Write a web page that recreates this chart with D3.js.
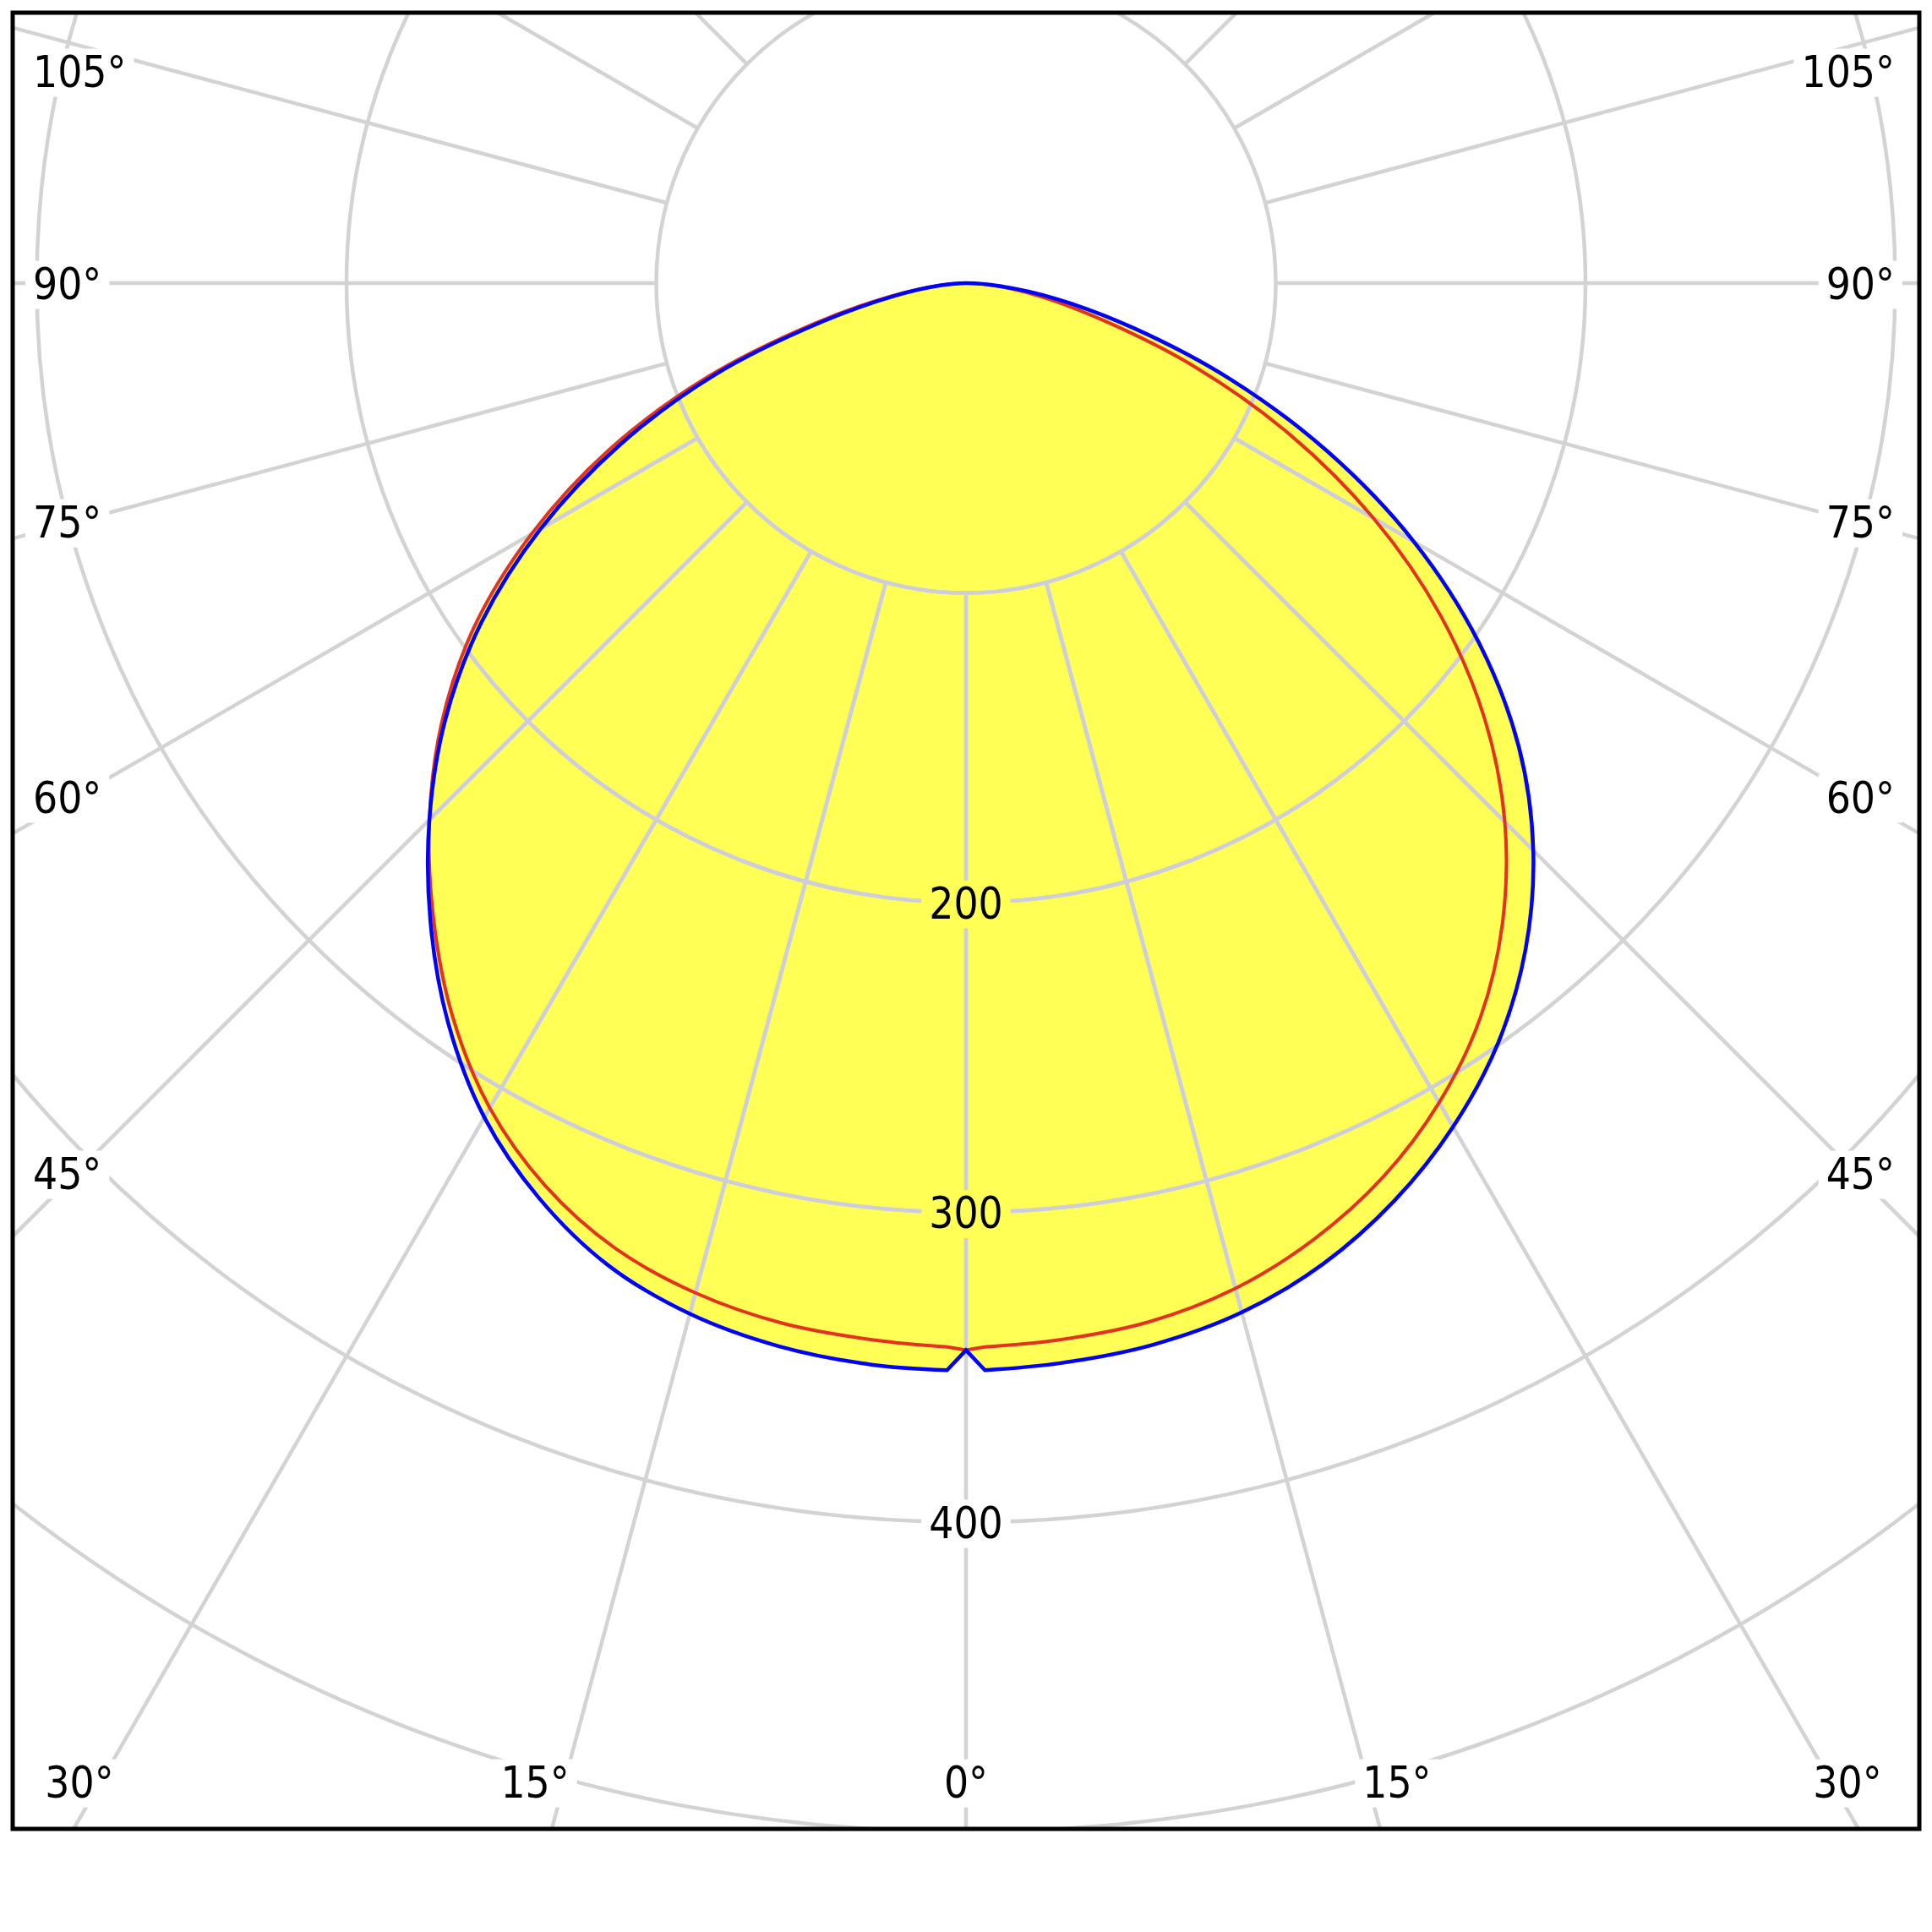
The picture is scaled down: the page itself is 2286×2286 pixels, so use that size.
<!DOCTYPE html>
<html>
<head>
<meta charset="utf-8">
<script src="https://cdn.jsdelivr.net/npm/d3@7"></script>
<style>
  html, body { margin: 0; padding: 0; background: #ffffff; }
  svg { display: block; }
</style>
</head>
<body>
<script>
// ---------------- DATA (luminous intensity, cd/klm) ----------------
const curveAngles = [0, 1, 5, 10, 15, 20, 25, 30, 35, 40, 45, 50, 55, 60, 65, 70, 75, 80, 85, 90];
// red curve (C0 / C180 plane)
const redLeft  = [344.5, 343.5, 342.5, 341, 337.5, 331.5, 321.5, 307.5, 289, 267.5, 245, 221, 194, 162, 127, 89, 51, 25, 9, 0];
const redRight = [344.5, 343.5, 342.5, 340.5, 336, 328.5, 318.5, 305.5, 289.5, 269.5, 246, 218.5, 187, 152, 115, 78, 45, 24, 9, 0];
// blue curve (C90 / C270 plane)
const blueLeft  = [344.5, 351, 350.5, 348.5, 344.5, 337.5, 326, 311, 291.5, 269, 245, 219.5, 191, 158.5, 123, 86, 48, 23, 8, 0];
const blueRight = [344.5, 351, 350, 348, 344, 337, 327, 314.5, 299.5, 281, 259, 233, 202, 167, 129, 91, 56, 30, 11, 0];

const gridAngles  = [0, 15, 30, 45, 60, 75, 90, 105, 120, 135, 150, 165, 180];
const ringValues  = [100, 200, 300, 400, 500, 600, 700];
const ringLabels  = ["200", "300", "400"];
const angleLabels = ["0°", "15°", "30°", "45°", "60°", "75°", "90°", "105°"];

// ---------------- LAYOUT ----------------
const W = 2286, H = 2286;
const frame = { x: 15, y: 15, w: 2256, h: 2149 };
const cx = 1143, cy = 335;
const fs = 51;
const gridColor = "#d3d3d3", gridColorInside = "#cdcddc";
const fillColor = "#ffff55", redColor = "#e5321f", blueColor = "#0000ff";

const r = d3.scaleLinear().domain([0, 100]).range([0, 366.5]);
const rad = d => d * Math.PI / 180;

const svg = d3.select("body").append("svg")
  .attr("width", W).attr("height", H)
  .attr("viewBox", `0 0 ${W} ${H}`);

const defs = svg.append("defs");
defs.append("clipPath").attr("id", "frameClip")
  .append("rect").attr("x", frame.x).attr("y", frame.y)
  .attr("width", frame.w).attr("height", frame.h);

// radial line generator: angle measured from nadir (0 = down)
const radialOpen = d3.lineRadial()
  .angle(d => d.a)
  .radius(d => r(d.v))
  .curve(d3.curveCatmullRom.alpha(0.5));

function curvePath(left, right) {
  const n = curveAngles.length;
  const pts = [];
  for (let i = 1; i < n; i++) pts.push({ a: Math.PI + rad(curveAngles[i]), v: left[i] });
  for (let i = n - 2; i >= 1; i--) pts.push({ a: Math.PI - rad(curveAngles[i]), v: right[i] });
  const p0 = d3.pointRadial(Math.PI, r(left[0]));
  return radialOpen(pts) + `L${p0[0]},${p0[1]}Z`;
}
const redPath = curvePath(redLeft, redRight);
const bluePath = curvePath(blueLeft, blueRight);

const root = svg.append("g").attr("clip-path", "url(#frameClip)");
const plot = root.append("g").attr("transform", `translate(${cx},${cy})`);

// clip of yellow area (union of both curves) for inside grid tint
const fillClip = defs.append("clipPath").attr("id", "fillClip");
fillClip.append("path").attr("transform", `translate(${cx},${cy})`).attr("d", redPath);
fillClip.append("path").attr("transform", `translate(${cx},${cy})`).attr("d", bluePath);

// yellow fill
plot.append("path").attr("d", redPath).attr("fill", fillColor);
plot.append("path").attr("d", bluePath).attr("fill", fillColor);

// ---------------- LABELS (drawn later on top, measured first) ----------------
const labelLayer = svg.append("g")
  .attr("font-family", "'DejaVu Sans Condensed', 'DejaVu Sans', sans-serif")
  .attr("font-stretch", "condensed")
  .attr("font-size", fs).attr("fill", "#000");

const labelNodes = [];
ringLabels.forEach(t => {
  const v = +t;
  const n = labelLayer.append("text")
    .attr("x", cx).attr("y", cy + r(v) + 0.3645 * fs)
    .attr("text-anchor", "middle").text(t);
  labelNodes.push(n);
});

function angleLabelPos(thetaDeg) {
  const th = rad(thetaDeg), s = Math.sin(th), c = Math.cos(th);
  const xIn = 90, yOut = 2238;
  let t = Infinity;
  if (s > 1e-9) t = Math.min(t, (cx - xIn) / s);
  if (c > 1e-9) t = Math.min(t, (yOut - cy) / c);
  return { dx: t * s, py: cy + t * c };
}
angleLabels.forEach(lbl => {
  const a = parseFloat(lbl);
  const p = angleLabelPos(a);
  [-1, 1].forEach(side => {
    if (a === 0 && side === 1) return;
    let x, y, anchor;
    if (p.py > 2108) {
      y = 2108;
      anchor = "middle";
      x = side < 0 ? Math.max(cx - p.dx, 94) : Math.min(cx + p.dx, 2186);
    } else {
      y = Math.max(p.py, 84);
      anchor = side < 0 ? "start" : "end";
      x = side < 0 ? 39 : 2242;
    }
    const n = labelLayer.append("text")
      .attr("x", x).attr("y", y + 0.3645 * fs)
      .attr("text-anchor", anchor).text(lbl);
    labelNodes.push(n);
  });
});

// mask to cut grid lines around labels
const mask = defs.append("mask").attr("id", "labelMask")
  .attr("maskUnits", "userSpaceOnUse")
  .attr("x", 0).attr("y", 0).attr("width", W).attr("height", H);
mask.append("rect").attr("x", 0).attr("y", 0).attr("width", W).attr("height", H).attr("fill", "#fff");
labelNodes.forEach(n => {
  const b = n.node().getBBox();
  mask.append("rect")
    .attr("x", b.x - 9).attr("y", b.y + 2)
    .attr("width", b.width + 18).attr("height", b.height - 2)
    .attr("fill", "#000");
});

// ---------------- GRID ----------------
function drawGrid(g, color) {
  g.selectAll("circle.ring").data(ringValues).join("circle")
    .attr("class", "ring")
    .attr("cx", 0).attr("cy", 0).attr("r", d => r(d))
    .attr("fill", "none").attr("stroke", color).attr("stroke-width", 4.5);
  const spokes = [];
  gridAngles.forEach(a => {
    spokes.push(Math.PI - rad(a));
    if (a !== 0 && a !== 180) spokes.push(Math.PI + rad(a));
  });
  g.selectAll("path.spoke").data(spokes).join("path")
    .attr("class", "spoke")
    .attr("d", d => d3.lineRadial()([[d, r(100)], [d, r(1000)]]))
    .attr("fill", "none").attr("stroke", color).attr("stroke-width", 4.5);
}
const gridOuter = root.append("g").attr("mask", "url(#labelMask)")
  .append("g").attr("transform", `translate(${cx},${cy})`);
drawGrid(gridOuter, gridColor);
const gridInner = root.append("g").attr("mask", "url(#labelMask)")
  .append("g").attr("clip-path", "url(#fillClip)")
  .append("g").attr("transform", `translate(${cx},${cy})`);
drawGrid(gridInner, gridColorInside);

// ---------------- CURVES ----------------
const curves = root.append("g").attr("transform", `translate(${cx},${cy})`);
curves.append("path").attr("d", redPath)
  .attr("fill", "none").attr("stroke", redColor).attr("stroke-width", 4)
  .attr("stroke-linejoin", "miter");
curves.append("path").attr("d", bluePath)
  .attr("fill", "none").attr("stroke", blueColor).attr("stroke-width", 4.5)
  .attr("stroke-linejoin", "miter");

// labels on top
labelLayer.raise();

// frame
svg.append("rect").attr("x", frame.x).attr("y", frame.y)
  .attr("width", frame.w).attr("height", frame.h)
  .attr("fill", "none").attr("stroke", "#000").attr("stroke-width", 5);
</script>
</body>
</html>
